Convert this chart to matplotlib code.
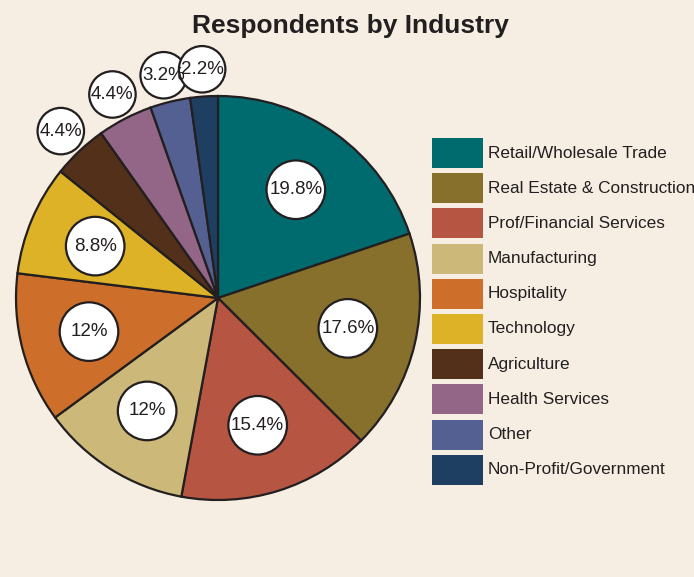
import numpy as np
import matplotlib.pyplot as plt
from matplotlib.patches import Circle, Rectangle

# data
industries = ['Retail/Wholesale Trade', 'Real Estate & Construction', 'Prof/Financial Services',
              'Manufacturing', 'Hospitality', 'Technology', 'Agriculture', 'Health Services',
              'Other', 'Non-Profit/Government']
shares = [19.8, 17.6, 15.4, 12, 12, 8.8, 4.4, 4.4, 3.2, 2.2]
labels = ['19.8%', '17.6%', '15.4%', '12%', '12%', '8.8%', '4.4%', '4.4%', '3.2%', '2.2%']
colors = ['#006b6f', '#86702b', '#b65542', '#ccb878', '#cd6f2a', '#ddb226',
          '#52301a', '#936587', '#546092', '#1f3f62']

bg = '#f6eee2'
dark = '#231f20'
W, H = 694, 577
cx, cy, R = 218, 298, 202

fig = plt.figure(figsize=(W / 100, H / 100), dpi=100, facecolor=bg)
ax = fig.add_axes([0, 0, 1, 1])
ax.set_facecolor(bg)

wedges, _ = ax.pie(shares, colors=colors, startangle=90, counterclock=False,
                   wedgeprops=dict(edgecolor=dark, linewidth=1.6))

# pixel-exact limits: 1 data unit = R pixels
ax.set_xlim(-cx / R, (W - cx) / R)
ax.set_ylim(-(H - cy) / R, cy / R)
ax.set_aspect('auto')
ax.axis('off')

# percentage bubbles
total = sum(shares)
cum = 0
for val, lab in zip(shares, labels):
    mid = (cum + val / 2) / total * 2 * np.pi
    cum += val
    if val >= 5:
        r, rad = 0.66, 0.145
    else:
        r, rad = 1.135, 0.115
    x, y = r * np.sin(mid), r * np.cos(mid)
    ax.add_patch(Circle((x, y), rad, facecolor='white', edgecolor=dark, lw=1.6, zorder=5))
    ax.text(x, y, lab, ha='center', va='center', fontsize=13.5, color=dark,
            family=['Liberation Sans', 'DejaVu Sans'], zorder=6)

# legend
lx0, ly0, step = 432, 138, 35.2
for i, (name, col) in enumerate(zip(industries, colors)):
    top = ly0 + i * step
    fig.patches.append(Rectangle((lx0 / W, 1 - (top + 30) / H), 51 / W, 30 / H,
                                 transform=fig.transFigure, facecolor=col, edgecolor='none'))
    fig.text(488 / W, 1 - (top + 15) / H, name, ha='left', va='center', fontsize=12.4,
             color=dark, family=['Liberation Sans', 'DejaVu Sans'])

fig.text(350 / W, 1 - 33.3 / H, 'Respondents by Industry', ha='center', va='baseline',
         fontsize=19, fontweight='bold', color=dark,
         family=['Liberation Sans', 'DejaVu Sans'])

plt.savefig('out.png', dpi=100, facecolor=bg)
